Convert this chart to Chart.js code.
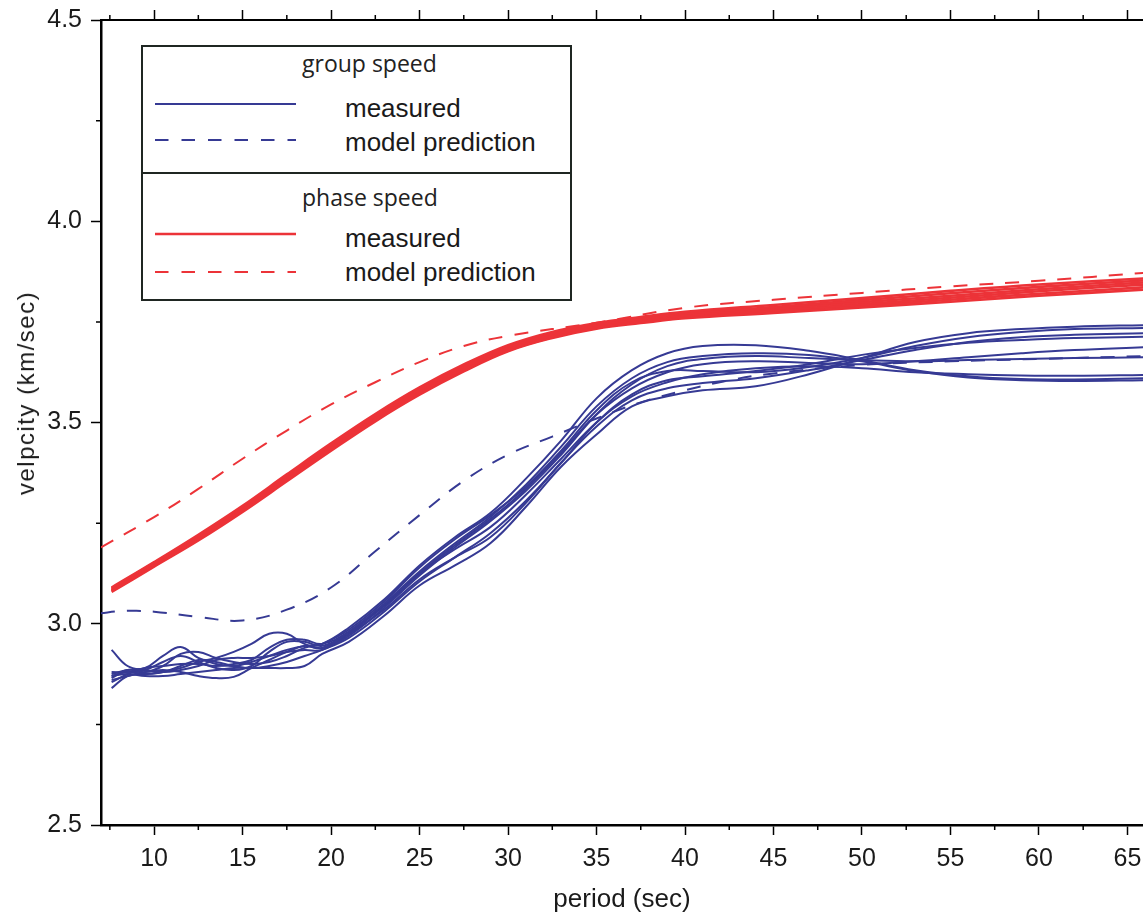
<!DOCTYPE html>
<html>
<head>
<meta charset="utf-8">
<title>group and phase speed</title>
<script src="https://cdn.jsdelivr.net/npm/chart.js@4.4.1/dist/chart.umd.min.js"></script>
<style>
    body { margin: 0; background: #fff; }
    #wrap { position: relative; width: 1143px; height: 915px; overflow: hidden; }
    .legend-box { position: absolute; box-sizing: border-box; border: 2px solid #1f2622; background: #fff; }
    .legend-divider { position: absolute; height: 0; border-top: 2px solid #1f2622; }
    .legend-title { position: absolute; font-family: "Open Sans"; font-size: 23px; line-height: 1; color: #222; white-space: nowrap; }
    .legend-label { position: absolute; font-family: "Liberation Sans", Arial; font-size: 26px; line-height: 1; color: #1a1a1a; white-space: nowrap; }
    .legend-sample { position: absolute; }
    .y-title { position: absolute; font-family: "Liberation Sans", Arial; font-size: 24px; letter-spacing: 1.5px; line-height: 1;
               color: #1a1a1a; white-space: nowrap; transform: translate(-50%, -50%) rotate(-90deg); }
</style>
</head>
<body>
<div id="wrap">
    <canvas id="dispersion"></canvas>
    <div class="y-title" style="left:26px; top:393px;">velpcity (km/sec)</div>

    <div class="legend-box" style="left:141px; top:45px; width:431px; height:256px;"></div>
    <div class="legend-divider" style="left:141px; top:172px; width:431px;"></div>

    <div class="legend-title" style="left:302px; top:52px;">group speed</div>
    <svg class="legend-sample" style="left:155px; top:100px;" width="141" height="8">
        <line x1="0" y1="4" x2="141" y2="4" stroke="#363a94" stroke-width="2"/>
    </svg>
    <div class="legend-label" style="left:345px; top:95px;">measured</div>
    <svg class="legend-sample" style="left:155px; top:136px;" width="141" height="8">
        <line x1="0" y1="4" x2="141" y2="4" stroke="#363a94" stroke-width="2" stroke-dasharray="13.5 13"/>
    </svg>
    <div class="legend-label" style="left:345px; top:129px;">model prediction</div>

    <div class="legend-title" style="left:302px; top:186px;">phase speed</div>
    <svg class="legend-sample" style="left:155px; top:230px;" width="141" height="8">
        <line x1="0" y1="4" x2="141" y2="4" stroke="#ec3338" stroke-width="2.5"/>
    </svg>
    <div class="legend-label" style="left:345px; top:225px;">measured</div>
    <svg class="legend-sample" style="left:155px; top:268px;" width="141" height="8">
        <line x1="0" y1="4" x2="141" y2="4" stroke="#ec3338" stroke-width="2" stroke-dasharray="13.5 13"/>
    </svg>
    <div class="legend-label" style="left:345px; top:259px;">model prediction</div>
</div>

<script>
// axis ticks
const periodTicks = [10, 15, 20, 25, 30, 35, 40, 45, 50, 55, 60, 65];
const periodMinor = [7.5, 12.5, 17.5, 22.5, 27.5, 32.5, 37.5, 42.5, 47.5, 52.5, 57.5, 62.5];
const velocityTicks = [2.5, 3.0, 3.5, 4.0, 4.5];
const velocityMinor = [2.75, 3.25, 3.75, 4.25];

// group speed, measured (one array per path)
const groupPeriods = [7.6, 8.5, 9.5, 10.5, 11.5, 12.5, 13.5, 14.5, 15.5, 16.5, 17.5, 18.5, 19.5,
    21, 23, 25, 27, 29, 31, 33, 35, 37, 39, 41, 44, 47, 50, 53, 56, 59, 62, 66];
const groupMeasured1 = [2.875, 2.885, 2.89, 2.92, 2.942, 2.915, 2.90, 2.895, 2.905, 2.92, 2.935, 2.945, 2.95,
    2.99, 3.06, 3.145, 3.215, 3.275, 3.36, 3.455, 3.56, 3.63, 3.672, 3.69, 3.692, 3.678, 3.655, 3.63, 3.615, 3.608, 3.607, 3.61];
const groupMeasured2 = [2.87, 2.88, 2.875, 2.88, 2.89, 2.905, 2.915, 2.93, 2.95, 2.975, 2.975, 2.95, 2.94,
    2.98, 3.05, 3.13, 3.20, 3.265, 3.345, 3.44, 3.54, 3.61, 3.65, 3.665, 3.672, 3.668, 3.652, 3.628, 3.612, 3.605, 3.603, 3.605];
const groupMeasured3 = [2.86, 2.87, 2.88, 2.885, 2.88, 2.87, 2.865, 2.868, 2.89, 2.91, 2.93, 2.945, 2.94,
    2.97, 3.04, 3.12, 3.19, 3.255, 3.33, 3.42, 3.52, 3.595, 3.64, 3.658, 3.665, 3.66, 3.655, 3.652, 3.655, 3.658, 3.66, 3.662];
const groupMeasured4 = [2.935, 2.895, 2.885, 2.88, 2.885, 2.895, 2.91, 2.915, 2.915, 2.92, 2.93, 2.935, 2.935,
    2.975, 3.045, 3.125, 3.195, 3.26, 3.335, 3.425, 3.52, 3.585, 3.625, 3.645, 3.652, 3.648, 3.645, 3.652, 3.662, 3.672, 3.68, 3.687];
const groupMeasured5 = [2.84, 2.87, 2.875, 2.88, 2.895, 2.91, 2.905, 2.895, 2.89, 2.895, 2.905, 2.92, 2.935,
    2.965, 3.03, 3.105, 3.165, 3.225, 3.305, 3.40, 3.50, 3.57, 3.605, 3.615, 3.628, 3.645, 3.668, 3.685, 3.698, 3.705, 3.71, 3.713];
const groupMeasured6 = [2.865, 2.885, 2.88, 2.895, 2.925, 2.93, 2.915, 2.905, 2.90, 2.905, 2.92, 2.94, 2.95,
    2.985, 3.055, 3.14, 3.21, 3.27, 3.34, 3.43, 3.53, 3.60, 3.628, 3.628, 3.625, 3.638, 3.66, 3.69, 3.712, 3.725, 3.732, 3.735];
const groupMeasured7 = [2.87, 2.875, 2.87, 2.87, 2.875, 2.88, 2.885, 2.89, 2.89, 2.89, 2.89, 2.895, 2.925,
    2.955, 3.02, 3.095, 3.145, 3.20, 3.29, 3.39, 3.47, 3.54, 3.565, 3.58, 3.59, 3.62, 3.66, 3.70, 3.722, 3.732, 3.738, 3.742];
const groupMeasured8 = [2.88, 2.88, 2.885, 2.905, 2.92, 2.905, 2.89, 2.885, 2.895, 2.93, 2.955, 2.955, 2.945,
    2.975, 3.035, 3.11, 3.165, 3.215, 3.30, 3.40, 3.49, 3.555, 3.585, 3.598, 3.61, 3.63, 3.655, 3.68, 3.70, 3.712, 3.718, 3.722];
const groupMeasured9 = [2.855, 2.875, 2.89, 2.895, 2.90, 2.90, 2.895, 2.90, 2.91, 2.94, 2.96, 2.96, 2.95,
    2.98, 3.045, 3.125, 3.185, 3.24, 3.32, 3.41, 3.50, 3.565, 3.60, 3.62, 3.635, 3.64, 3.635, 3.625, 3.62, 3.617, 3.616, 3.618];

// group speed, model prediction
const groupModelPeriods = [7, 8, 9, 10, 12.5, 15, 17.5, 20, 22.5, 25, 27.5, 30, 32.5, 35, 37.5, 40, 42.5, 45, 50, 55, 60, 66];
const groupModel = [3.026, 3.031, 3.032, 3.03, 3.017, 3.008, 3.035, 3.09, 3.18, 3.27, 3.355, 3.42, 3.465, 3.51, 3.55, 3.58,
    3.605, 3.622, 3.643, 3.652, 3.658, 3.665];

// phase speed, measured
const phasePeriods = [7.6, 10, 12.5, 15, 17.5, 20, 22.5, 25, 27.5, 30, 32.5, 35, 37.5, 40, 45, 50, 55, 60, 66];
const phaseMeasured1 = [3.090, 3.153, 3.221, 3.293, 3.371, 3.448, 3.521, 3.587, 3.644, 3.692, 3.725, 3.747, 3.762, 3.775, 3.792, 3.809, 3.827, 3.843, 3.858];
const phaseMeasured2 = [3.088, 3.151, 3.218, 3.290, 3.367, 3.444, 3.517, 3.583, 3.640, 3.688, 3.721, 3.743, 3.758, 3.771, 3.787, 3.804, 3.821, 3.837, 3.853];
const phaseMeasured3 = [3.085, 3.148, 3.215, 3.287, 3.364, 3.441, 3.514, 3.580, 3.637, 3.685, 3.718, 3.740, 3.755, 3.767, 3.783, 3.799, 3.815, 3.831, 3.848];
const phaseMeasured4 = [3.083, 3.146, 3.212, 3.284, 3.360, 3.437, 3.510, 3.576, 3.633, 3.682, 3.715, 3.737, 3.752, 3.764, 3.779, 3.794, 3.810, 3.826, 3.843];
const phaseMeasured5 = [3.081, 3.144, 3.210, 3.281, 3.357, 3.433, 3.506, 3.572, 3.630, 3.679, 3.712, 3.735, 3.749, 3.761, 3.775, 3.790, 3.805, 3.820, 3.836];
const phaseMeasured6 = [3.079, 3.142, 3.207, 3.278, 3.354, 3.430, 3.503, 3.569, 3.627, 3.677, 3.710, 3.733, 3.747, 3.759, 3.772, 3.786, 3.800, 3.815, 3.830];

// phase speed, model prediction
const phaseModelPeriods = [7, 10, 12.5, 15, 17.5, 20, 22.5, 25, 27.5, 30, 35, 40, 45, 50, 55, 60, 66];
const phaseModel = [3.19, 3.265, 3.335, 3.41, 3.48, 3.545, 3.60, 3.65, 3.69, 3.715, 3.748, 3.785, 3.805, 3.822, 3.838, 3.852, 3.872];

const BLUE = "#363a94";
const RED = "#ec3338";
const TEXT = "#1a1a1a";

function toPoints(xs, ys) {
    return xs.map((x, i) => ({ x: x, y: ys[i] }));
}

function lineSet(xs, ys, color, width, dashed, order) {
    return {
        data: toPoints(xs, ys),
        borderColor: color,
        borderWidth: width,
        borderDash: dashed ? [14, 12] : [],
        pointRadius: 0,
        fill: false,
        tension: 0.4,
        order: order
    };
}

const datasets = [];
[phaseMeasured1, phaseMeasured2, phaseMeasured3, phaseMeasured4, phaseMeasured5, phaseMeasured6].forEach(ys => {
    datasets.push(lineSet(phasePeriods, ys, RED, 2.6, false, 0));
});
[groupMeasured1, groupMeasured2, groupMeasured3, groupMeasured4, groupMeasured5,
 groupMeasured6, groupMeasured7, groupMeasured8, groupMeasured9].forEach(ys => {
    datasets.push(lineSet(groupPeriods, ys, BLUE, 2, false, 0));
});
datasets.push(lineSet(phaseModelPeriods, phaseModel, RED, 2, true, 1));
datasets.push(lineSet(groupModelPeriods, groupModel, BLUE, 2, true, 1));

// minor ticks, placed through the scales
const minorTicks = {
    id: "minorTicks",
    afterDraw(chart) {
        const { ctx, chartArea: a, scales } = chart;
        ctx.save();
        ctx.strokeStyle = "#000";
        ctx.lineWidth = 1.5;
        ctx.beginPath();
        periodMinor.forEach(v => {
            const px = scales.x.getPixelForValue(v);
            ctx.moveTo(px, a.bottom); ctx.lineTo(px, a.bottom + 5);
            ctx.moveTo(px, a.top); ctx.lineTo(px, a.top - 5);
        });
        velocityMinor.forEach(v => {
            const py = scales.y.getPixelForValue(v);
            ctx.moveTo(a.left, py); ctx.lineTo(a.left - 5, py);
        });
        ctx.stroke();
        ctx.restore();
    }
};

const tickFont = { family: "Liberation Sans", size: 25 };
const axisGrid = { drawOnChartArea: false, tickLength: 10, tickWidth: 1.5, tickColor: "#000" };

new Chart(document.getElementById("dispersion"), {
    type: "line",
    data: { datasets: datasets },
    plugins: [minorTicks],
    options: {
        responsive: true,
        maintainAspectRatio: false,
        animation: false,
        layout: { padding: 0 },
        plugins: { legend: { display: false }, tooltip: { enabled: false } },
        scales: {
            x: {
                type: "linear",
                position: "bottom",
                min: 7,
                max: 65.88,
                afterBuildTicks: s => { s.ticks = periodTicks.map(v => ({ value: v })); },
                afterFit: s => { s.height = 90; s.paddingLeft = 0; s.paddingRight = 0; },
                grid: axisGrid,
                border: { color: "#000", width: 2.5 },
                ticks: { color: TEXT, font: tickFont, padding: 9, maxRotation: 0, autoSkip: false },
                title: {
                    display: true,
                    text: "period (sec)",
                    color: TEXT,
                    font: { family: "Liberation Sans", size: 26 },
                    padding: { top: 0, bottom: 0 }
                }
            },
            xTop: {
                type: "linear",
                position: "top",
                min: 7,
                max: 65.88,
                afterBuildTicks: s => { s.ticks = periodTicks.map(v => ({ value: v })); },
                afterFit: s => { s.height = 20; s.paddingLeft = 0; s.paddingRight = 0; },
                grid: axisGrid,
                border: { color: "#000", width: 2 },
                ticks: { display: false }
            },
            y: {
                type: "linear",
                min: 2.5,
                max: 4.5,
                afterBuildTicks: s => { s.ticks = velocityTicks.map(v => ({ value: v })); },
                afterFit: s => { s.width = 101; s.paddingTop = 0; s.paddingBottom = 0; },
                grid: axisGrid,
                border: { color: "#000", width: 2.5 },
                ticks: { color: TEXT, font: tickFont, padding: 9, callback: v => v.toFixed(1) }
            }
        }
    }
});
</script>
</body>
</html>
